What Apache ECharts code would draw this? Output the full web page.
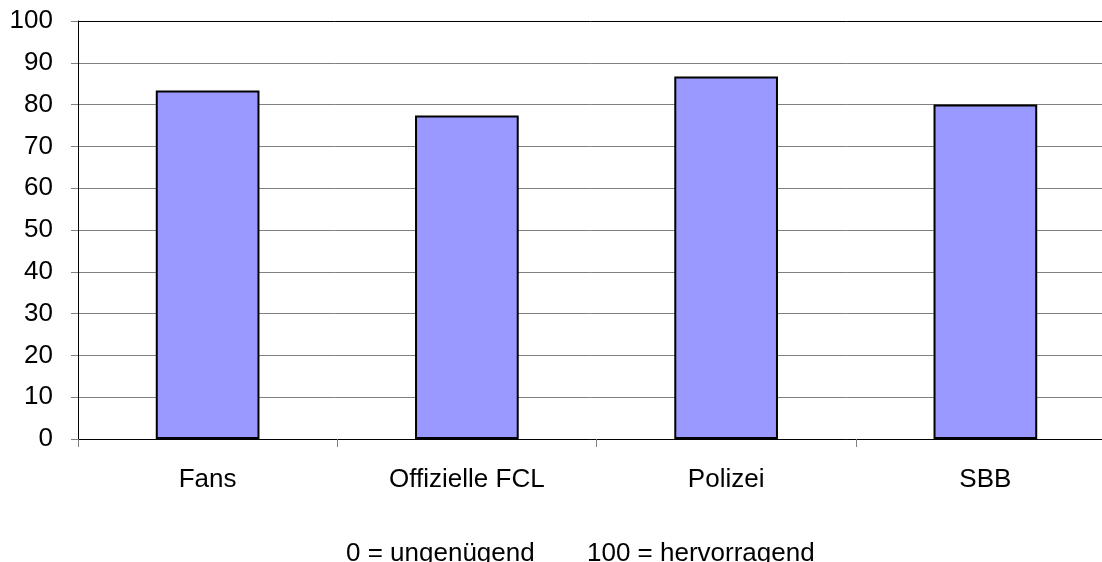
<!DOCTYPE html>
<html>
<head>
<meta charset="utf-8">
<script src="https://cdn.jsdelivr.net/npm/echarts@6/dist/echarts.min.js"></script>
<style>html,body{margin:0;padding:0;background:#fff;}#c{width:1102px;height:562px;}</style>
</head>
<body>
<div id="c"></div>
<script>
var categories = ['Fans', 'Offizielle FCL', 'Polizei', 'SBB'];
var values = [83.4, 77.4, 86.7, 80];
var yTicks = {min: 0, max: 100, interval: 10};
var noteLeft = '0 = ungenügend';
var noteRight = '100 = hervorragend';

var font = '"Liberation Sans", Arial, sans-serif';
var splitColors = [];
for (var i = 0; i <= 10; i++) splitColors.push(i === 10 ? '#000000' : '#808080');

var chart = echarts.init(document.getElementById('c'));
chart.setOption({
  animation: false,
  backgroundColor: '#ffffff',
  grid: {left: 78, width: 1037, top: 21, bottom: 123, containLabel: false, outerBoundsMode: 'none'},
  xAxis: {
    type: 'category',
    data: categories,
    boundaryGap: true,
    axisLine: {lineStyle: {color: '#000', width: 1}},
    axisTick: {show: true, length: 8, lineStyle: {color: '#808080'}},
    axisLabel: {color: '#000', fontFamily: font, fontSize: 26, margin: 28}
  },
  yAxis: {
    type: 'value',
    min: yTicks.min, max: yTicks.max, interval: yTicks.interval,
    axisLine: {show: true, lineStyle: {color: '#000', width: 1}},
    axisTick: {show: true, length: 7, lineStyle: {color: '#808080'}},
    axisLabel: {color: '#000', fontFamily: font, fontSize: 26, margin: 25},
    splitLine: {show: true, lineStyle: {color: splitColors, width: 1}}
  },
  graphic: [
    {type: 'text', left: 346, top: 541, style: {text: noteLeft, fill: '#000', font: '26px ' + font}},
    {type: 'text', left: 587, top: 541, style: {text: noteRight, fill: '#000', font: '26px ' + font}}
  ],
  series: [{
    type: 'bar',
    data: values,
    barWidth: '40%',
    itemStyle: {color: '#9999ff', borderColor: '#000', borderWidth: 2}
  }]
});
</script>
</body>
</html>
